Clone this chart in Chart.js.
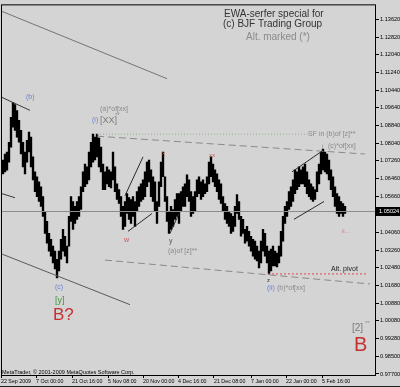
<!DOCTYPE html>
<html><head><meta charset="utf-8">
<script src="https://cdn.jsdelivr.net/npm/chart.js@4/dist/chart.umd.min.js"></script>
<style>html,body{margin:0;padding:0;background:#d4d4d4;overflow:hidden}</style>
</head><body>
<canvas id="c" width="400" height="387"></canvas>
<script>
// ---- data (H4 bars, high / low) ----
const barHighs = [1.0730,1.0757,1.0766,1.0810,1.0922,1.0988,1.0979,1.0952,1.0908,1.0863,1.0810,1.0766,1.0819,1.0855,1.0833,1.0744,1.0677,1.0655,1.0632,1.0610,
1.0566,1.0499,1.0455,1.0401,1.0374,1.0344,1.0321,1.0285,1.0321,1.0374,1.0419,1.0388,1.0344,1.0477,1.0566,1.0544,1.0522,1.0544,1.0566,1.0610,
1.0677,1.0712,1.0699,1.0766,1.0810,1.0846,1.0833,1.0846,1.0828,1.0788,1.0712,1.0677,1.0699,1.0686,1.0677,1.0766,1.0699,1.0623,1.0597,1.0566,
1.0522,1.0544,1.0579,1.0561,1.0553,1.0566,1.0544,1.0588,1.0610,1.0623,1.0641,1.0677,1.0721,1.0730,1.0686,1.0655,1.0632,1.0544,1.0632,1.0721,
1.0766,1.0655,1.0566,1.0499,1.0522,1.0508,1.0553,1.0579,1.0579,1.0588,1.0610,1.0623,1.0664,1.0641,1.0588,1.0566,1.0588,1.0641,1.0655,1.0632,
1.0641,1.0623,1.0655,1.0721,1.0744,1.0712,1.0686,1.0668,1.0641,1.0623,1.0566,1.0535,1.0522,1.0499,1.0490,1.0477,1.0522,1.0575,1.0544,1.0477,
1.0464,1.0419,1.0432,1.0410,1.0388,1.0374,1.0366,1.0344,1.0321,1.0366,1.0419,1.0401,1.0344,1.0321,1.0330,1.0344,1.0321,1.0312,1.0344,1.0410,
1.0477,1.0522,1.0544,1.0588,1.0610,1.0641,1.0686,1.0677,1.0699,1.0686,1.0699,1.0712,1.0677,1.0641,1.0623,1.0610,1.0597,1.0677,1.0712,1.0766,
1.0779,1.0766,1.0757,1.0730,1.0686,1.0655,1.0610,1.0579,1.0566,1.0544,1.0535,1.0522];
const barLows = [1.0668,1.0677,1.0685,1.0721,1.0788,1.0877,1.0863,1.0833,1.0810,1.0757,1.0699,1.0668,1.0721,1.0766,1.0699,1.0641,1.0588,1.0566,1.0544,1.0522,
1.0477,1.0401,1.0357,1.0321,1.0299,1.0268,1.0241,1.0201,1.0232,1.0285,1.0321,1.0299,1.0268,1.0344,1.0455,1.0419,1.0446,1.0464,1.0477,1.0508,
1.0588,1.0610,1.0623,1.0641,1.0699,1.0721,1.0730,1.0744,1.0699,1.0677,1.0597,1.0597,1.0623,1.0610,1.0605,1.0641,1.0588,1.0553,1.0535,1.0477,
1.0419,1.0432,1.0490,1.0464,1.0446,1.0477,1.0432,1.0499,1.0522,1.0544,1.0553,1.0566,1.0610,1.0632,1.0566,1.0544,1.0499,1.0446,1.0522,1.0610,
1.0655,1.0544,1.0455,1.0401,1.0419,1.0432,1.0464,1.0477,1.0446,1.0499,1.0522,1.0522,1.0566,1.0544,1.0477,1.0490,1.0499,1.0566,1.0579,1.0553,
1.0566,1.0579,1.0588,1.0623,1.0655,1.0632,1.0610,1.0588,1.0553,1.0535,1.0499,1.0464,1.0446,1.0432,1.0401,1.0410,1.0432,1.0490,1.0464,1.0388,
1.0401,1.0357,1.0366,1.0344,1.0321,1.0299,1.0285,1.0277,1.0246,1.0268,1.0321,1.0299,1.0268,1.0219,1.0232,1.0255,1.0255,1.0250,1.0268,1.0299,
1.0366,1.0446,1.0477,1.0508,1.0522,1.0544,1.0579,1.0597,1.0610,1.0623,1.0623,1.0610,1.0579,1.0566,1.0553,1.0544,1.0553,1.0588,1.0623,1.0668,
1.0686,1.0677,1.0668,1.0641,1.0597,1.0566,1.0522,1.0490,1.0477,1.0490,1.0477,1.0490];
const lastPrice = 1.05024;

// ---- axis labels ----
const timeLabels = ["22 Sep 2009","7 Oct 00:00","21 Oct 16:00","5 Nov 08:00","20 Nov 00:00","4 Dec 16:00","21 Dec 08:00","7 Jan 00:00","22 Jan 00:00","5 Feb 16:00"];
const timeLabelBars = [-1,16.5,34.5,52.5,70,87.5,105.5,124,141.5,159.5];
const priceTicks = [1.13620,1.12820,1.12040,1.11240,1.10440,1.09640,1.08840,1.08040,1.07260,1.06460,1.05660,1.04860,1.04060,1.03260,1.02480,1.01680,1.00880,1.00080,0.99280,0.98500,0.97700];

// ---- analyst annotations (bar index, price) ----
const trendLines = [
  {a:[-0.5,1.1397], b:[82,1.1095], color:'#747474', w:1},
  {a:[-0.5,1.1011], b:[13.5,1.0953], color:'#3a3a3a', w:1},
  {a:[-0.5,1.0579], b:[6,1.0561], color:'#3a3a3a', w:1},
  {a:[-0.5,1.0308], b:[63.5,1.0081], color:'#5a5a5a', w:1},
  {a:[47,1.0846], b:[152.5,1.0846], color:'#8fb08f', w:1, dash:[1,2]},
  {a:[47,1.0837], b:[181,1.0757], color:'#8a8a8a', w:1, dash:[7,4]},
  {a:[51,1.0281], b:[183.5,1.0174], color:'#8a8a8a', w:1, dash:[7,4]},
  {a:[132.5,1.0219], b:[182.5,1.0219], color:'#e04a4a', w:1, dash:[2,2]},
  {a:[61,1.0570], b:[70,1.0744], color:'#2a2a2a', w:1},
  {a:[62.5,1.0410], b:[74.5,1.0490], color:'#2a2a2a', w:1},
  {a:[83.5,1.0401], b:[88,1.0490], color:'#2a2a2a', w:1},
  {a:[144.5,1.0677], b:[159.5,1.0770], color:'#2a2a2a', w:1},
  {a:[145.5,1.0464], b:[160.5,1.0544], color:'#2a2a2a', w:1}
];
const notes = [
  {t:'EWA-serfer special for', at:[110.5,1.1371], c:'#333333', s:10},
  {t:'(c) BJF Trading Group', at:[110,1.1328], c:'#333333', s:10},
  {t:'Alt. marked (*)', at:[121.5,1.1270], c:'#8a8a8a', s:10},
  {t:'(b)', at:[11.5,1.1006], c:'#6f80d6', s:7},
  {t:'(a)*of[xx]', at:[48.5,1.0948], c:'#8a8a8a', s:7},
  {t:'(i)', at:[44.5,1.0899], c:'#6f80d6', s:7},
  {t:'[XX]', at:[48.5,1.0895], c:'#7a7a7a', s:9},
  {t:'**', at:[56,1.0924], c:'#8a8a8a', s:6},
  {t:'SF in (b)of [z]**', at:[152.5,1.0837], c:'#8a8a8a', s:7},
  {t:'i', at:[159.5,1.0786], c:'#8a8a8a', s:6},
  {t:'(c)*of[xx]', at:[162.5,1.0784], c:'#8a8a8a', s:7},
  {t:'xx', at:[103,1.0744], c:'#c65a5a', s:6},
  {t:'x', at:[79.5,1.0753], c:'#c65a5a', s:6},
  {t:'w', at:[60.5,1.0361], c:'#c65a5a', s:7},
  {t:'y', at:[83,1.0357], c:'#555555', s:7},
  {t:'(a)of [z]**', at:[82.5,1.0312], c:'#8a8a8a', s:7},
  {t:'ii...', at:[169.5,1.0401], c:'#d07a7a', s:6},
  {t:'Alt. pivot', at:[164,1.0232], c:'#222222', s:7},
  {t:'z', at:[132,1.0183], c:'#333333', s:6},
  {t:'(ii)', at:[132,1.0148], c:'#6f80d6', s:7},
  {t:'(b)*of[xx]', at:[137,1.0148], c:'#8a8a8a', s:7},
  {t:'(c)', at:[26,1.0152], c:'#6f80d6', s:7},
  {t:'[y]', at:[26,1.0090], c:'#3c9a3c', s:9},
  {t:'B?', at:[25,1.0010], c:'#c43030', s:17},
  {t:'[2]', at:[174.5,0.9961], c:'#7a7a7a', s:10},
  {t:'**', at:[181,0.9990], c:'#8a8a8a', s:6},
  {t:'B', at:[175.5,0.9872], c:'#c43030', s:20},
  {t:'MetaTrader, \u00a9 2001-2009 MetaQuotes Software Corp.', at:[-0.5,0.9770], c:'#000000', s:5.5}
];

const FONT = '"Liberation Sans", Arial, sans-serif';

const mt4 = {
  id:'mt4',
  beforeDraw(chart){
    const ctx = chart.ctx;
    ctx.save();
    ctx.fillStyle = '#d4d4d4';
    ctx.fillRect(0,0,chart.width,chart.height);
    ctx.restore();
  },
  afterDatasetsDraw(chart){
    const {ctx, chartArea:ca, scales:{x,y}} = chart;
    ctx.save();
    ctx.beginPath(); ctx.rect(ca.left, ca.top, ca.right-ca.left, ca.bottom-ca.top); ctx.clip();
    const yp = Math.round(y.getPixelForValue(lastPrice))+0.5;
    ctx.strokeStyle = '#8c8c8c'; ctx.lineWidth = 1; ctx.setLineDash([]);
    ctx.beginPath(); ctx.moveTo(ca.left, yp); ctx.lineTo(ca.right, yp); ctx.stroke();
    for (const l of trendLines){
      ctx.strokeStyle = l.color; ctx.lineWidth = l.w; ctx.setLineDash(l.dash||[]);
      ctx.beginPath();
      ctx.moveTo(x.getPixelForValue(l.a[0]), y.getPixelForValue(l.a[1]));
      ctx.lineTo(x.getPixelForValue(l.b[0]), y.getPixelForValue(l.b[1]));
      ctx.stroke();
    }
    ctx.setLineDash([]);
    ctx.textBaseline = 'alphabetic'; ctx.textAlign = 'left';
    for (const n of notes){
      ctx.fillStyle = n.c; ctx.font = n.s + 'px ' + FONT;
      ctx.fillText(n.t, x.getPixelForValue(n.at[0]), y.getPixelForValue(n.at[1]));
    }
    ctx.restore();
  },
  afterDraw(chart){
    const {ctx, chartArea:ca, scales:{y}} = chart;
    ctx.save();
    ctx.strokeStyle = '#000'; ctx.lineWidth = 1;
    ctx.strokeRect(ca.left+0.5, ca.top+0.5, ca.right-ca.left-1, ca.bottom-ca.top);
    ctx.strokeStyle = '#202020';
    ctx.beginPath(); ctx.moveTo(0,386.5); ctx.lineTo(400,386.5); ctx.stroke();
    const yp = y.getPixelForValue(lastPrice);
    ctx.fillStyle = '#000';
    ctx.fillRect(ca.right, Math.round(yp)-4, chart.width-ca.right, 9);
    ctx.fillStyle = '#fff'; ctx.font = '5.6px ' + FONT; ctx.textBaseline = 'middle';
    ctx.fillText(lastPrice.toFixed(5), ca.right+3, Math.round(yp)+0.5);
    ctx.restore();
  }
};

new Chart(document.getElementById('c'), {
  type:'bar',
  data:{datasets:[{
    data: barHighs.map((h,i)=>({x:i, y:[barLows[i], h]})),
    backgroundColor:'#000', borderWidth:0, barThickness:1.7
  }]},
  options:{
    responsive:false, animation:false, devicePixelRatio:1,
    layout:{padding:{left:1, top:1, right:0, bottom:0}},
    plugins:{legend:{display:false}, tooltip:{enabled:false}},
    scales:{
      x:{type:'linear', min:-1, max:186.5, offset:false,
        grid:{display:true, drawOnChartArea:false, drawTicks:true, tickLength:3, color:'#000', offset:false},
        border:{display:false},
        ticks:{autoSkip:false, maxRotation:0, minRotation:0, align:'start', padding:0, color:'#000',
          font:{size:5.3, family:FONT}, callback:(v,i)=>timeLabels[i]},
        afterBuildTicks:s=>{ s.ticks = timeLabelBars.map(v=>({value:v})); },
        afterFit:s=>{ s.height = 12; }
      },
      y:{type:'linear', position:'right', min:0.97654, max:1.14286,
        grid:{display:true, drawOnChartArea:false, drawTicks:true, tickLength:3, color:'#000'},
        border:{display:false},
        ticks:{autoSkip:false, padding:1, color:'#000', font:{size:5.6, family:FONT},
          callback:v=>Number(v).toFixed(5)},
        afterBuildTicks:s=>{ s.ticks = priceTicks.map(v=>({value:v})); },
        afterFit:s=>{ s.width = 24; }
      }
    }
  },
  plugins:[mt4]
});
</script>
</body></html>
